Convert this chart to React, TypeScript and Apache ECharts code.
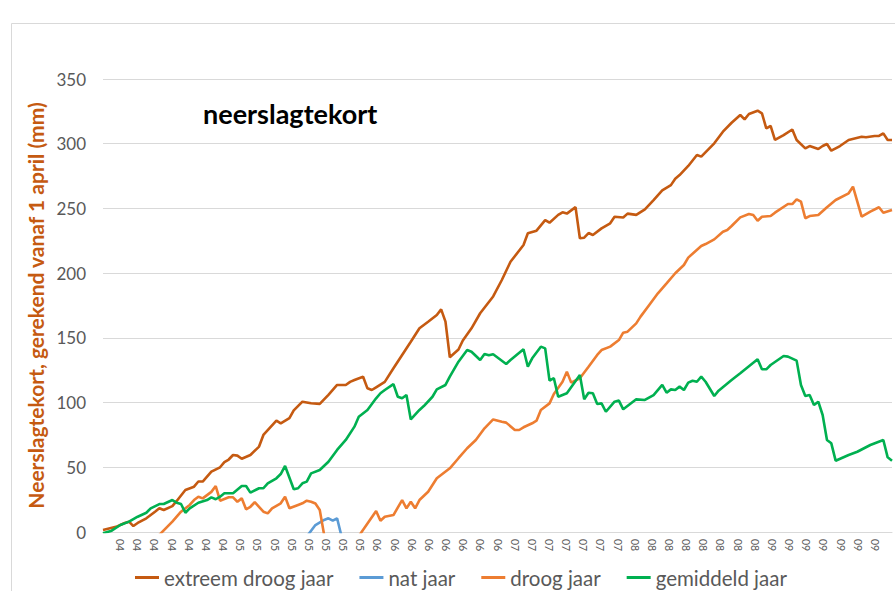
import React, { useEffect, useRef } from "react";
import * as echarts from "echarts";

// x = day since 1 April (0 = 1 April), y = neerslagtekort (mm)
const extreemDroog: [number, number][] = [
  [0, 1.5], [3, 4], [5, 7], [6, 8], [7, 4.6], [8, 7], [10, 10.6], [12, 15.7], [13, 18.3], [14, 17],
  [16, 20], [17, 24], [19, 32.5], [21, 35], [22, 39], [23, 39], [25, 46.6], [27, 50], [28, 54], [29, 56],
  [30, 59.5], [31, 59], [32, 56.6], [34, 59.5], [36, 66], [37, 75], [40, 86], [41, 84], [43, 88], [44, 94],
  [46, 100.7], [48, 99.5], [50, 99], [52, 106], [54, 113.6], [56, 113.6], [57, 116], [58, 117.4], [60, 120],
  [61, 111], [62, 109.7], [63, 111.8], [65, 116], [67, 126.5], [69, 136.8], [71, 147], [73, 157.4], [75, 162.5],
  [77, 167.7], [78, 172], [79, 162.5], [80, 135], [82, 141], [83, 148], [85, 157.4], [87, 169], [90, 182],
  [92, 194.7], [94, 208.8], [97, 221.7], [98, 230.8], [100, 232.8], [102, 241], [103, 239], [105, 245],
  [106, 247], [107, 246], [109, 251], [110, 227], [111, 227.4], [112, 231], [113, 229.5], [115, 234.6],
  [117, 238.5], [118, 243.6], [120, 243], [121, 246], [123, 245], [125, 249.3], [127, 256.5], [129, 264],
  [131, 268], [132, 273], [133, 275.8], [135, 282.8], [137, 291.3], [138, 290], [141, 300.3], [143, 309.3],
  [145, 316.2], [147, 322.2], [148, 318.8], [149, 323], [151, 325.5], [152, 323.5], [153, 311.9], [154, 313.7],
  [155, 302.9], [157, 306.7], [159, 311], [160, 302.9], [162, 296.4], [163, 298.2], [165, 295.9], [166, 298.2],
  [167, 299.8], [168, 294.6], [170, 298.2], [172, 302.9], [175, 305.4], [176, 305], [178, 306], [179, 306],
  [180, 308], [181, 302.9], [182, 302.9],
];

const natJaar: [number, number][] = [
  [46, -8], [48, 1], [49, 5.4], [51, 9.3], [52, 10.6], [53, 8.7], [54, 10.6], [55, -3], [56, -20],
];

const droogJaar: [number, number][] = [
  [0, -12], [11, -9], [16, 8], [18, 15.7], [20, 20.9], [21, 24.7], [22, 27.3], [23, 26], [25, 31], [26, 35.5],
  [27, 24.2], [29, 26.8], [30, 26.8], [31, 23.4], [32, 26], [33, 17.5], [34, 19.5], [35, 23], [37, 15.7],
  [38, 14.4], [39, 18.3], [41, 22.2], [42, 27.3], [43, 18.3], [45, 20.9], [46, 22.2], [47, 24.2], [48, 23.4],
  [49, 22], [50, 17], [51, -2], [52, -25], [55, -30], [58, -8], [63, 16.2], [64, 8.7], [65, 11.8], [67, 13.1],
  [69, 24.7], [70, 18.3], [71, 23.4], [72, 18.3], [73, 24.7], [75, 31.1], [77, 41.5], [80, 49.2], [82, 57],
  [84, 64.7], [86, 71.1], [88, 80.1], [90, 87], [92, 85.2], [93, 84.5], [95, 78.8], [96, 78.8], [97, 80.9],
  [99, 84], [100, 86], [101, 94.3], [103, 99.4], [104, 106.6], [106, 116.1], [107, 123.9], [108, 115.4],
  [110, 118.8], [112, 127.7], [114, 136.8], [115, 140.6], [117, 143.2], [119, 148.3], [120, 154], [121, 154.8],
  [123, 161.2], [124, 166.4], [126, 175.4], [128, 184.4], [130, 192.1], [132, 199.9], [134, 206.3], [135, 212],
  [138, 221], [139, 222.5], [141, 226.1], [143, 232], [144, 233.3], [145, 236.4], [147, 243.1], [149, 245.7],
  [150, 244.9], [151, 240.5], [152, 243.6], [154, 244.1], [155, 246.7], [158, 253.4], [159, 253.4], [160, 257],
  [161, 255.2], [162, 242.4], [163, 244.1], [165, 244.9], [167, 250.9], [169, 256.5], [172, 261.7], [173, 266.8],
  [175, 243.6], [177, 247.5], [179, 250.9], [180, 246.7], [182, 248.8],
];

const gemiddeldJaar: [number, number][] = [
  [0, -1], [2, 1], [4, 5.4], [6, 8], [8, 11.8], [10, 14.9], [11, 18.3], [13, 21.6], [14, 21.6], [16, 24.7],
  [17, 22.6], [18, 21.6], [19, 14.9], [20, 18.3], [22, 22.6], [24, 24.7], [25, 26.8], [26, 25.3], [27, 27.3],
  [28, 29.9], [30, 29.9], [32, 35.5], [33, 35.5], [34, 30.4], [36, 33.8], [37, 33.8], [38, 37.6], [40, 41.5],
  [41, 44.8], [42, 51], [44, 33], [45, 33.8], [46, 37.6], [47, 38.9], [48, 45.3], [50, 47.9], [52, 54.3],
  [54, 63.4], [56, 71.1], [58, 81.4], [59, 89.1], [61, 94.3], [63, 103.3], [64, 107.2], [65, 109.7], [67, 114.3],
  [68, 104.5], [69, 103.3], [70, 105.8], [71, 87], [73, 94.3], [74, 97.3], [76, 104.5], [77, 110.2], [79, 113.6],
  [80, 120], [82, 131.6], [84, 140.6], [85, 139.3], [87, 132.9], [88, 137.5], [89, 136.5], [90, 137.3],
  [93, 129.8], [94, 132.9], [97, 141.2], [98, 127.7], [99, 134.2], [101, 143.2], [102, 141.9], [103, 116.9],
  [104, 118.8], [105, 104.5], [107, 107.2], [110, 121.3], [111, 102.5], [112, 107.6], [113, 107.2], [114, 98.9],
  [115, 99.4], [116, 92.9], [118, 100.7], [119, 101.5], [120, 94.8], [123, 102.5], [125, 102], [127, 105.8],
  [129, 113.6], [130, 107.6], [131, 110.2], [132, 109.7], [133, 112.3], [134, 109.7], [135, 115.4], [136, 116.9],
  [137, 116.1], [138, 120], [139, 116.1], [141, 105.1], [142, 109.2], [145, 117.4], [147, 122.6], [151, 133.4],
  [152, 125.7], [153, 125.7], [154, 129], [157, 136], [158, 135.5], [160, 132.4], [161, 113.6], [162, 105.1],
  [163, 105.8], [164, 98.1], [165, 100.7], [166, 90.4], [167, 71.1], [168, 68.5], [169, 55.1], [172, 59.5],
  [174, 62], [177, 67.2], [180, 71.1], [181, 57.7], [182, 55.1],
];

// month tick labels along the x axis (first and last slot empty)
const xTickLabels: string[] = [
  "",
  "04", "04", "04", "04", "04", "04", "04",
  "05", "05", "05", "05", "05", "05", "05", "05",
  "06", "06", "06", "06", "06", "06", "06", "06",
  "07", "07", "07", "07", "07", "07", "07",
  "08", "08", "08", "08", "08", "08", "08", "08",
  "09", "09", "09", "09", "09", "09", "09",
  "",
];

const seriesNames = ["extreem droog jaar", "nat jaar", "droog jaar", "gemiddeld jaar"];
const seriesColors = ["#C55A11", "#5B9BD5", "#ED7D31", "#00B050"];
const seriesData = [extreemDroog, natJaar, droogJaar, gemiddeldJaar];

const titleText = "neerslagtekort";
const yAxisTitle = "Neerslagtekort, gerekend vanaf 1 april (mm)";

export default function App() {
  const ref = useRef<HTMLDivElement>(null);

  useEffect(() => {
    if (!ref.current) return;
    const chart = echarts.init(ref.current, undefined, { renderer: "svg" });
    const font = "Lato, 'Open Sans', sans-serif";
    chart.setOption({
      animation: false,
      backgroundColor: "#ffffff",
      title: {
        text: titleText,
        left: 203,
        top: 100,
        padding: 0,
        textStyle: { fontSize: 27, fontWeight: "bold", color: "#000000", fontFamily: font },
      },
      graphic: [
        {
          type: "rect",
          silent: true,
          shape: { x: 11.5, y: 23.5, width: 900, height: 600 },
          style: { fill: "none", stroke: "#d9d9d9", lineWidth: 1 },
        },
      ],
      legend: {
        left: 130,
        top: 562,
        icon: "rect",
        itemWidth: 24,
        itemHeight: 3,
        itemGap: 26,
        textStyle: { fontSize: 20.5, color: "#595959", fontFamily: font },
        data: seriesNames,
      },
      grid: { left: 103, right: 3, top: 79, bottom: 59, containLabel: false },
      xAxis: [
        { type: "value", min: 0, max: 182, show: false },
        {
          type: "category",
          data: xTickLabels,
          boundaryGap: false,
          position: "bottom",
          axisLine: { show: true, lineStyle: { color: "#d9d9d9", width: 1 } },
          axisTick: { show: false },
          axisLabel: {
            interval: 0,
            rotate: -90,
            margin: 7,
            fontSize: 10.5,
            color: "#595959",
            fontFamily: font,
          },
          splitLine: { show: false },
        },
      ],
      yAxis: {
        type: "value",
        min: 0,
        max: 350,
        interval: 50,
        name: yAxisTitle,
        nameLocation: "middle",
        nameRotate: 90,
        nameGap: 51,
        nameTextStyle: { color: "#C55A11", fontWeight: "bold", fontSize: 21, fontFamily: font },
        axisLine: { show: false },
        axisTick: { show: false },
        axisLabel: { fontSize: 17, color: "#595959", margin: 17, fontFamily: font },
        splitLine: { lineStyle: { color: "#d9d9d9", width: 1 } },
      },
      series: seriesNames.map((name, i) => ({
        name,
        type: "line",
        xAxisIndex: 0,
        data: seriesData[i],
        showSymbol: false,
        symbol: "none",
        clip: true,
        color: seriesColors[i],
        lineStyle: { color: seriesColors[i], width: 2.6 },
      })),
    });
    return () => chart.dispose();
  }, []);

  return (
    <div
      ref={ref}
      style={{ position: "fixed", left: 0, top: 0, width: 895, height: 591, background: "#fff" }}
    />
  );
}
